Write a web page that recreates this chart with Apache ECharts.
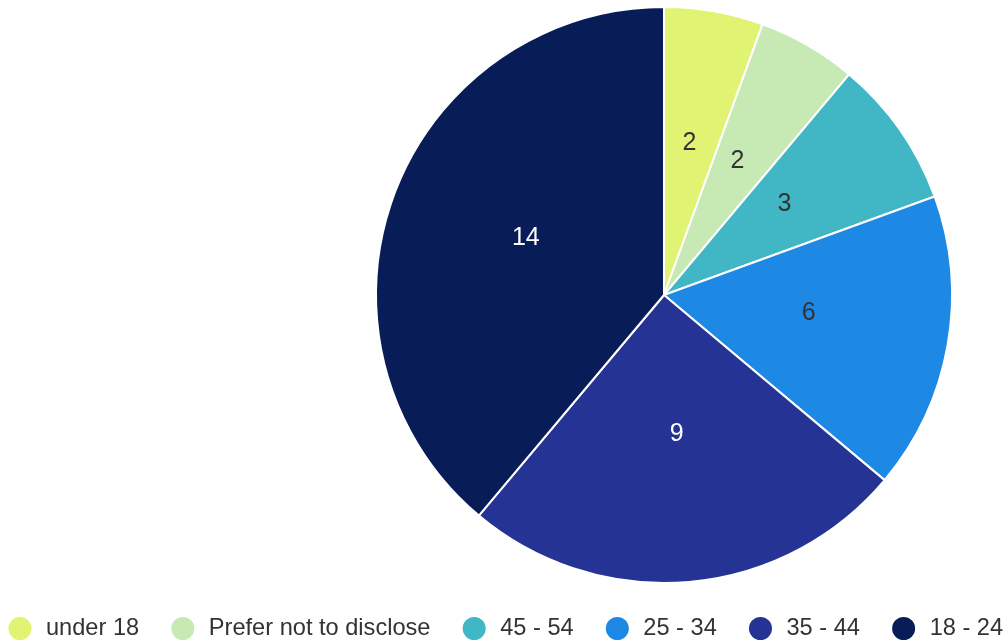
<!DOCTYPE html>
<html><head><meta charset="utf-8">
<script src="https://cdn.jsdelivr.net/npm/echarts@6/dist/echarts.min.js"></script>
<style>html,body{margin:0;padding:0;background:#fff}#c{width:1008px;height:643px}</style>
</head><body><div id="c"></div>
<script>
const categories = ['under 18','Prefer not to disclose','45 - 54','25 - 34','35 - 44','18 - 24'];
const values = [2,2,3,6,9,14];
const colors = ['#e0f372','#c7e9b4','#41b6c4','#1e88e5','#253494','#081d58'];
const labelColors = ['#333','#333','#333','#333','#fff','#fff'];
const chart = echarts.init(document.getElementById('c'));
chart.setOption({
  animation:false,
  textStyle:{fontFamily:'Liberation Sans, Arial, sans-serif'},
  legend:{
    bottom:1, left:6.5, width:1040, padding:0, icon:'circle', itemWidth:25, itemHeight:25, itemGap:30.2,
    textStyle:{fontSize:23.6, color:'#333', fontFamily:'Liberation Sans', padding:[0,0,0,8.5]}
  },
  series:[{
    type:'pie', center:[664,295], radius:288, startAngle:90, clockwise:true,
    itemStyle:{borderColor:'#fff', borderWidth:2},
    label:{position:'inside', fontSize:25, fontFamily:'Liberation Sans', formatter:'{c}', offset:[0,-7]},
    labelLine:{show:false},
    data:categories.map((n,i)=>({name:n, value:values[i], itemStyle:{color:colors[i]}, label:{color:labelColors[i]}}))
  }]
});
</script></body></html>
